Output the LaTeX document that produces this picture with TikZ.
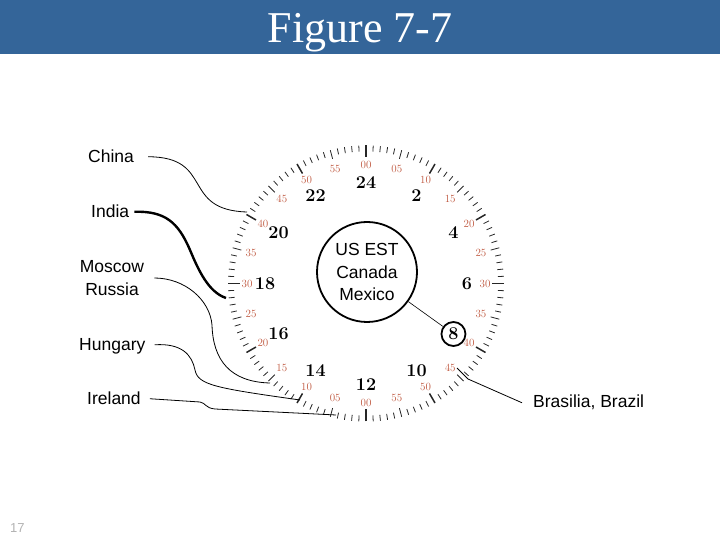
\documentclass[tikz,border=0pt]{standalone}
\usepackage{fontspec}
\usetikzlibrary{calc}
\newfontfamily\arialfont{Liberation Sans}
\newfontfamily\timesfont{Liberation Serif}
\definecolor{hdrblue}{RGB}{52,101,153}
\definecolor{minred}{RGB}{190,85,60}

\begin{document}
\begin{tikzpicture}[x=1pt, y=1pt,
  city/.style={anchor=base west, inner sep=0pt,
    font=\arialfont\fontsize{17.5}{23}\selectfont},
  lead/.style={line width=0.8pt},
  hour/.style={font=\bfseries\fontsize{18}{20}\selectfont, inner sep=1pt},
  minute/.style={text=minred, font=\fontsize{11}{12}\selectfont, inner sep=0pt},
  ring/.style={circle, draw, line width=1.8pt, minimum size=24pt, inner sep=0pt}
]
\useasboundingbox (0,0) rectangle (720,540);
\fill[hdrblue] (0,486) rectangle (720,540);
\node[anchor=base, text=white, font=\timesfont\fontsize{44}{48}\selectfont] (title) at (360,497) {Figure 7-7};
\node[anchor=base west, inner sep=0pt, text=gray!60, font=\arialfont\fontsize{13}{15}\selectfont] (page) at (10,7) {17};

\coordinate (dial) at (366,256.5);
\begin{scope}[shift={(dial)}]
\foreach \i in {0,...,119}{
  \pgfmathsetmacro\a{90-3*\i}
  \pgfmathsetmacro\len{ifthenelse(mod(\i,30)==0,12,ifthenelse(mod(\i,10)==0,11,ifthenelse(mod(\i,5)==0,9,6)))}
  \pgfmathsetmacro\wid{ifthenelse(mod(\i,30)==0,1.8,ifthenelse(mod(\i,10)==0,1.5,0.8))}
  \draw[line width=\wid pt, black!85] (\a:138) -- (\a:138-\len);
}
\foreach \k in {0,...,23}{
  \pgfmathsetmacro\a{90-15*\k}
  \pgfmathtruncatemacro\mm{mod(5*\k,60)}
  \node[minute] (m\k) at (\a:119) {\ifnum\mm<10 0\fi\mm};
}
\foreach \h [count=\j from 0] in {24,2,4,6,8,10,12,14,16,18,20,22}{
  \pgfmathsetmacro\a{90-30*\j}
  \node[hour] (h\h) at (\a:101) {\h};
}
\end{scope}

\node[ring] (eight) at (h8) {};
\node[circle, draw, line width=1.8pt, minimum size=100pt, inner sep=0pt, align=center,
  font=\arialfont\fontsize{17.5}{22.5}\selectfont] (usc) at (367,268) {US EST\\Canada\\Mexico};
\draw[line width=0.6pt] (usc) -- (eight);

\node[city] (china) at (88,377) {China};
\node[city] (india) at (91,322) {India};
\node[city, anchor=center, align=center] (moscow) at (112,262) {Moscow\\Russia};
\node[city] (hungary) at (79,189) {Hungary};
\node[city] (ireland) at (87,135) {Ireland};
\node[city] (brasilia) at (533,132) {Brasilia, Brazil};

\coordinate (chinaend) at (247,328);
\coordinate (indiaend) at (226,242);
\coordinate (moscowend) at (270,157);
\coordinate (hungaryend) at (300,140);
\coordinate (irelandend) at (336,125);
\coordinate (brasiliaend) at (457,172);

\draw[lead] ([xshift=14pt]china.east) .. controls (215,383) and (180,330) .. (chinaend);
\draw[lead, line width=2.4pt] ([xshift=5pt]india.east) .. controls (165,329) and (178,318) .. (190,290)
  .. controls (198,271) and (208,248) .. (indiaend);
\draw[lead] ([xshift=10pt]moscow.east) .. controls (185,262) and (210,240) .. (212,215)
  .. controls (213,180) and (230,158) .. (moscowend);
\draw[lead] ([xshift=9pt,yshift=2pt]hungary.east) .. controls (182,197) and (192,185) .. (195,170)
  .. controls (198,155) and (215,152) .. (hungaryend);
\draw[lead] ([xshift=9pt]ireland.east) -- (200,138) .. controls (206,137) and (205,132) .. (215,131) -- (irelandend);
\draw[lead] ([xshift=-11pt]brasilia.west) -- (468,161) -- (brasiliaend);
\end{tikzpicture}
\end{document}
